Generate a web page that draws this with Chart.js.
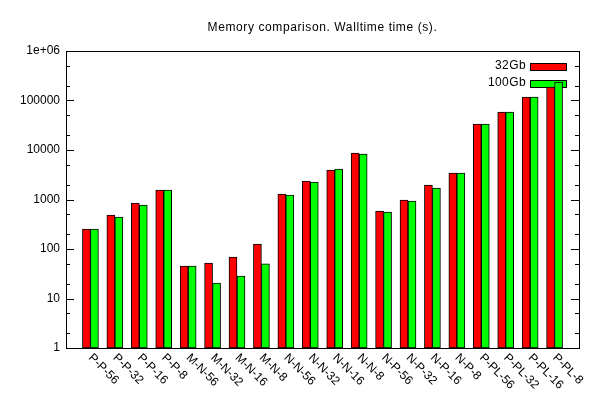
<!DOCTYPE html>
<html>
<head>
<meta charset="utf-8">
<script src="https://cdn.jsdelivr.net/npm/chart.js@4/dist/chart.umd.min.js"></script>
<style>body{margin:0;background:#fff}</style>
</head>
<body>
<canvas id="memChart" width="600" height="400"></canvas>
<script>
// values (log scale)
var categories = ['P-P-56', 'P-P-32', 'P-P-16', 'P-P-8', 'M-N-56', 'M-N-32', 'M-N-16', 'M-N-8',
  'N-N-56', 'N-N-32', 'N-N-16', 'N-N-8', 'N-P-56', 'N-P-32', 'N-P-16', 'N-P-8',
  'P-PL-56', 'P-PL-32', 'P-PL-16', 'P-PL-8'];
var mem32 = [254, 486, 850, 1556, 45, 52, 69, 126, 1291, 2365, 3946, 8690,
  586, 977, 1963, 3430, 33500, 58600, 117700, 187500];
var mem100 = [254, 443, 774, 1556, 45, 20.6, 28.5, 50, 1233, 2259, 4131, 8300,
  559, 933, 1707, 3430, 33500, 58600, 117700, 236400];
var yMajorTicks = [1, 10, 100, 1000, 10000, 100000, 1000000];
var yTickLabels = ['1', '10', '100', '1000', '10000', '100000', '1e+06'];
var yMinorSteps = [2, 5];
var seriesNames = ['32Gb', '100Gb'];
var seriesColors = ['#ff0000', '#00ff00'];
var chartTitle = 'Memory comparison. Walltime time (s).';

var FONT = '12px "Liberation Sans", Arial, sans-serif';

// one empty slot each side, like gnuplot's histogram range
var labels = [''].concat(categories, ['']);
function pad(arr) { return [null].concat(arr, [null]); }

var gnuplotFrame = {
  id: 'gnuplotFrame',
  beforeDatasetsDraw: function (chart) {
    // legend sits under the bars
    var ctx = chart.ctx;
    ctx.save();
    ctx.font = FONT;
    ctx.letterSpacing = '0.4px';
    ctx.textAlign = 'right';
    ctx.textBaseline = 'middle';
    for (var i = 0; i < seriesNames.length; i++) {
      var y = 63 + i * 17;
      ctx.fillStyle = '#000';
      ctx.fillText(seriesNames[i], 526, y + 3);
      ctx.fillStyle = seriesColors[i];
      ctx.fillRect(530, y, 36, 7);
      ctx.strokeStyle = '#000';
      ctx.lineWidth = 1;
      ctx.strokeRect(530.5, y + 0.5, 36, 7);
    }
    ctx.restore();
  },
  afterDraw: function (chart) {
    var ctx = chart.ctx;
    var ca = chart.chartArea;
    var yScale = chart.scales.y;
    var xScale = chart.scales.x;
    ctx.save();
    ctx.strokeStyle = '#000';
    ctx.lineWidth = 1;
    ctx.strokeRect(Math.round(ca.left) + 0.5, Math.round(ca.top) + 0.5,
      Math.round(ca.right - ca.left), Math.round(ca.bottom - ca.top));

    // inward ticks on left and right
    ctx.beginPath();
    yMajorTicks.forEach(function (v, i) {
      var py = Math.round(yScale.getPixelForValue(v)) + 0.5;
      ctx.moveTo(ca.left, py); ctx.lineTo(ca.left + 8, py);
      ctx.moveTo(ca.right, py); ctx.lineTo(ca.right - 8, py);
      if (i < yMajorTicks.length - 1) {
        yMinorSteps.forEach(function (m) {
          var my = Math.round(yScale.getPixelForValue(v * m)) + 0.5;
          ctx.moveTo(ca.left, my); ctx.lineTo(ca.left + 4, my);
          ctx.moveTo(ca.right, my); ctx.lineTo(ca.right - 4, my);
        });
      }
    });
    ctx.stroke();

    // rotated category labels
    ctx.fillStyle = '#000';
    ctx.font = FONT;
    ctx.textAlign = 'left';
    ctx.textBaseline = 'middle';
    categories.forEach(function (c, i) {
      var px = xScale.getPixelForValue(i + 1);
      ctx.save();
      ctx.translate(px, 356);
      ctx.rotate(Math.PI / 4);
      ctx.fillText(c, 0, 0);
      ctx.restore();
    });

    // title
    ctx.textAlign = 'center';
    ctx.letterSpacing = '0.6px';
    ctx.fillText(chartTitle, (ca.left + ca.right) / 2, 28);
    ctx.restore();
  }
};

var ctx = document.getElementById('memChart').getContext('2d');
var memChart = new Chart(ctx, {
  type: 'bar',
  data: {
    labels: labels,
    datasets: [{
      label: seriesNames[0],
      data: pad(mem32),
      backgroundColor: seriesColors[0],
      borderColor: '#000',
      borderWidth: 1,
      borderSkipped: false,
      barThickness: 8
    }, {
      label: seriesNames[1],
      data: pad(mem100),
      backgroundColor: seriesColors[1],
      borderColor: '#000',
      borderWidth: 1,
      borderSkipped: false,
      barThickness: 8
    }]
  },
  options: {
    responsive: false,
    animation: false,
    layout: { padding: { top: 51, right: 21, bottom: 52, left: 0 } },
    plugins: {
      legend: { display: false },
      title: { display: false },
      tooltip: { enabled: false }
    },
    scales: {
      x: {
        type: 'category',
        offset: false,
        grid: { display: false, drawTicks: false },
        border: { display: false },
        ticks: { display: false },
        afterFit: function (scale) { scale.height = 0; }
      },
      y: {
        type: 'logarithmic',
        min: 1,
        max: 1000000,
        grid: { display: false, drawTicks: false },
        border: { display: false },
        afterBuildTicks: function (scale) {
          scale.ticks = yMajorTicks.map(function (v) { return { value: v }; });
        },
        ticks: {
          color: '#000',
          padding: 6,
          font: { family: '"Liberation Sans", Arial, sans-serif', size: 12 },
          callback: function (value) {
            var idx = yMajorTicks.indexOf(value);
            return idx >= 0 ? yTickLabels[idx] : '';
          }
        },
        afterFit: function (scale) { scale.width = 66; }
      }
    }
  },
  plugins: [gnuplotFrame]
});
</script>
</body>
</html>
